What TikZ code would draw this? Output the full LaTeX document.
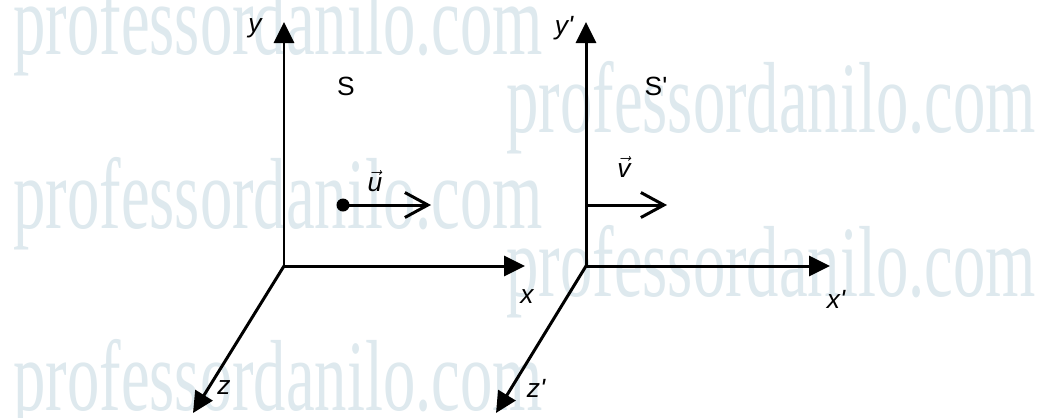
\documentclass[tikz,border=0pt]{standalone}
\usepackage{fontspec}
\setmainfont{Liberation Sans}
\newfontfamily\wmfont{Liberation Serif}
\usepackage{graphicx}
\usetikzlibrary{arrows.meta}

\definecolor{wmcol}{RGB}{222,233,238}
\tikzset{
    axis/.style={line width=1.7pt, -{Triangle[length=0.42cm, width=0.4cm]}},
    velo/.style={line width=1.7pt, -{Straight Barb[length=0.46cm, width=0.5cm]}},
    lbl/.style={font=\fontsize{15}{17}\selectfont\itshape, inner sep=0pt},
    frm/.style={font=\fontsize{15}{17}\selectfont, inner sep=0pt},
    wmark/.style={text=wmcol, font=\wmfont\fontsize{46}{46}\selectfont, inner sep=0pt, anchor=base west}
}
\newcommand{\wmtext}{\scalebox{0.8}[1.25]{professordanilo.com}}
\newcommand{\velvec}[1]{$\vec{\mbox{\itshape #1}}$}

\begin{document}
\begin{tikzpicture}[x=0.02cm, y=-0.02cm]
    \clip (0,0) rectangle (1043,417);
    \fill[white] (0,0) rectangle (1043,417);

    % Watermarks
    \node[wmark] (wm1) at (13,54) {\wmtext};
    \node[wmark] (wm2) at (506,132) {\wmtext};
    \node[wmark] (wm3) at (13,228) {\wmtext};
    \node[wmark] (wm4) at (506,296) {\wmtext};
    \node[wmark] (wm5) at (13,410) {\wmtext};

    % Frame S
    \coordinate (O) at (284,266);
    \coordinate (ytip) at (284,22);
    \coordinate (xtip) at (525,266);
    \coordinate (ztip) at (193,413);
    \draw[axis] (O) -- (ytip);
    \draw[axis] (O) -- (xtip);
    \draw[axis] (O) -- (ztip);
    \node[lbl] (ylbl) at (255,28) {y};
    \node[lbl] (xlbl) at (527,297) {x};
    \node[lbl] (zlbl) at (224,388) {z};
    \node[frm] (S) at (346,86) {S};

    % Frame S'
    \coordinate (Op) at (586,266);
    \coordinate (yptip) at (586,22);
    \coordinate (xptip) at (830,266);
    \coordinate (zptip) at (496,413);
    \draw[axis] (Op) -- (yptip);
    \draw[axis] (Op) -- (xptip);
    \draw[axis] (Op) -- (zptip);
    \node[lbl] (yplbl) at (564,28) {y\textquotesingle};
    \node[lbl] (xplbl) at (836,299) {x\textquotesingle};
    \node[lbl] (zplbl) at (536,388) {z\textquotesingle};
    \node[frm] (Sp) at (656,86) {S\textquotesingle};

    % Velocities
    \node[circle, fill, inner sep=0pt, minimum size=0.26cm] (dot) at (343,205) {};
    \coordinate (utip) at (431,205);
    \draw[velo] (dot.center) -- (utip);
    \node[lbl] (ulbl) at (375,181) {\velvec{u}};

    \coordinate (vstart) at (586,205);
    \coordinate (vtip) at (667,205);
    \draw[velo] (vstart) -- (vtip);
    \node[lbl] (vlbl) at (624,167) {\velvec{v}};
\end{tikzpicture}
\end{document}
